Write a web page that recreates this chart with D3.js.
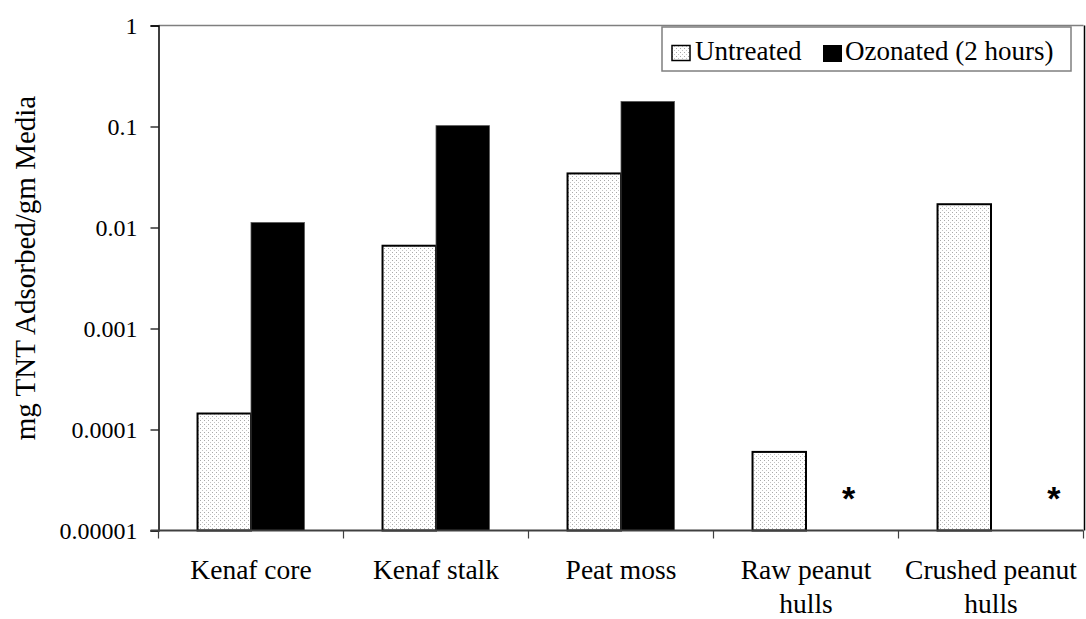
<!DOCTYPE html>
<html><head><meta charset="utf-8">
<script src="https://cdn.jsdelivr.net/npm/d3@7"></script>
<style>
html,body{margin:0;padding:0;background:#fff;}
svg{display:block;font-family:"Liberation Serif","Times New Roman",serif;}
</style></head>
<body>
<svg id="chart" width="1086" height="619"></svg>
<script>
const categories = ["Kenaf core", "Kenaf stalk", "Peat moss", "Raw peanut hulls", "Crushed peanut hulls"];
const categoryLines = [["Kenaf core"], ["Kenaf stalk"], ["Peat moss"], ["Raw peanut", "hulls"], ["Crushed peanut", "hulls"]];
const seriesNames = ["Untreated", "Ozonated (2 hours)"];
const untreated = [0.000144, 0.0066, 0.0343, 0.000060, 0.0170];
const ozonated = [0.0112, 0.102, 0.177, null, null];
const yTicks = [1, 0.1, 0.01, 0.001, 0.0001, 0.00001];
const yTickLabels = ["1", "0.1", "0.01", "0.001", "0.0001", "0.00001"];
const yTitle = "mg TNT Adsorbed/gm Media";
// asterisks mark missing ozonated data (not detected)
const asteriskCats = ["Raw peanut hulls", "Crushed peanut hulls"];
const asteriskPos = [0.73, 0.84];
const asteriskValue = 0.000023;

const svg = d3.select("#chart");
const pLeft = 158.5, pRight = 1083.5, pTop = 25.5, pBottom = 530.5;

const x = d3.scaleBand().domain(categories).range([pLeft, pRight]).padding(0);
const y = d3.scaleLog().domain([0.00001, 1]).range([pBottom, pTop]);
const bw = x.bandwidth() * 0.289;

// pattern for untreated
const defs = svg.append("defs");
const pat = defs.append("pattern").attr("id", "dots").attr("patternUnits", "userSpaceOnUse")
  .attr("width", 4).attr("height", 4);
pat.append("rect").attr("width", 4).attr("height", 4).attr("fill", "#fff");
pat.append("rect").attr("x", 0).attr("y", 0).attr("width", 1).attr("height", 1).attr("fill", "#a8a8a8");
pat.append("rect").attr("x", 2).attr("y", 2).attr("width", 1).attr("height", 1).attr("fill", "#c4c4c4");

// plot frame: top and right
svg.append("line").attr("x1", pLeft).attr("x2", pRight).attr("y1", pTop).attr("y2", pTop)
  .attr("stroke", "#7f7f7f").attr("stroke-width", 1.5);
svg.append("line").attr("x1", 1084.5).attr("x2", 1084.5).attr("y1", pTop).attr("y2", pBottom)
  .attr("stroke", "#000").attr("stroke-width", 1.5);

// bars
const g = svg.append("g");
categories.forEach((c, i) => {
  const cx = x(c) + x.bandwidth() / 2;
  if (untreated[i] != null) {
    g.append("rect").attr("x", cx - bw).attr("y", y(untreated[i]))
      .attr("width", bw).attr("height", y(0.00001) - y(untreated[i]))
      .attr("fill", "url(#dots)").attr("stroke", "#000").attr("stroke-width", 2);
  }
  if (ozonated[i] != null) {
    g.append("rect").attr("x", cx).attr("y", y(ozonated[i]))
      .attr("width", bw).attr("height", y(0.00001) - y(ozonated[i]))
      .attr("fill", "#000").attr("stroke", "#555").attr("stroke-width", 0.8);
  }
});

// asterisks
asteriskCats.forEach((c, i) => {
  svg.append("text").attr("x", x(c) + x.bandwidth() * asteriskPos[i]).attr("y", y(asteriskValue) + 16)
    .attr("text-anchor", "middle").attr("font-family", "Liberation Sans, Arial, sans-serif")
    .attr("font-weight", "bold").attr("font-size", 34).text("*");
});

// y axis
const yAxis = d3.axisLeft(y).tickValues(yTicks).tickFormat((d, i) => yTickLabels[i]).tickSize(8).tickPadding(13);
const ya = svg.append("g").attr("transform", `translate(${pLeft},0)`).call(yAxis);
ya.attr("font-family", null);
ya.select(".domain").attr("stroke", "#000").attr("stroke-width", 1.5);
ya.selectAll(".tick line").attr("stroke", "#000").attr("stroke-width", 1.2);
ya.selectAll(".tick text").attr("font-family", "Liberation Serif, serif").attr("font-size", 24).attr("fill", "#000").attr("dy", "0.34em");

// x axis
const boundaries = categories.map(c => x(c)).concat([x(categories[categories.length - 1]) + x.bandwidth()]);
svg.append("line").attr("x1", pLeft - 8).attr("x2", pRight).attr("y1", pBottom).attr("y2", pBottom)
  .attr("stroke", "#404040").attr("stroke-width", 1.8);
svg.selectAll(".xtick").data(boundaries).join("line").attr("class", "xtick")
  .attr("x1", d => d).attr("x2", d => d).attr("y1", pBottom).attr("y2", pBottom + 8)
  .attr("stroke", "#404040").attr("stroke-width", 1.2);
categories.forEach((c, i) => {
  const t = svg.append("text").attr("x", x(c) + x.bandwidth() / 2).attr("y", 579)
    .attr("text-anchor", "middle").attr("font-size", 27.5).attr("fill", "#000");
  categoryLines[i].forEach((ln, j) => {
    t.append("tspan").attr("x", x(c) + x.bandwidth() / 2).attr("dy", j === 0 ? 0 : 34).text(ln);
  });
});

// y title
svg.append("text").attr("transform", `translate(35,268) rotate(-90)`)
  .attr("text-anchor", "middle").attr("font-size", 29).attr("fill", "#000").text(yTitle);

// legend
const lg = svg.append("g");
lg.append("rect").attr("x", 662).attr("y", 27).attr("width", 409).attr("height", 44)
  .attr("fill", "#fff").attr("stroke", "#7f7f7f").attr("stroke-width", 1.5);
lg.append("rect").attr("x", 672).attr("y", 45.5).attr("width", 18).attr("height", 15)
  .attr("fill", "url(#dots)").attr("stroke", "#000").attr("stroke-width", 1.5);
lg.append("text").attr("x", 695).attr("y", 60).attr("font-size", 27).text(seriesNames[0]);
lg.append("rect").attr("x", 823).attr("y", 45).attr("width", 19).attr("height", 17)
  .attr("fill", "#000");
lg.append("text").attr("x", 845).attr("y", 60).attr("font-size", 27).text(seriesNames[1]);
</script>
</body></html>
